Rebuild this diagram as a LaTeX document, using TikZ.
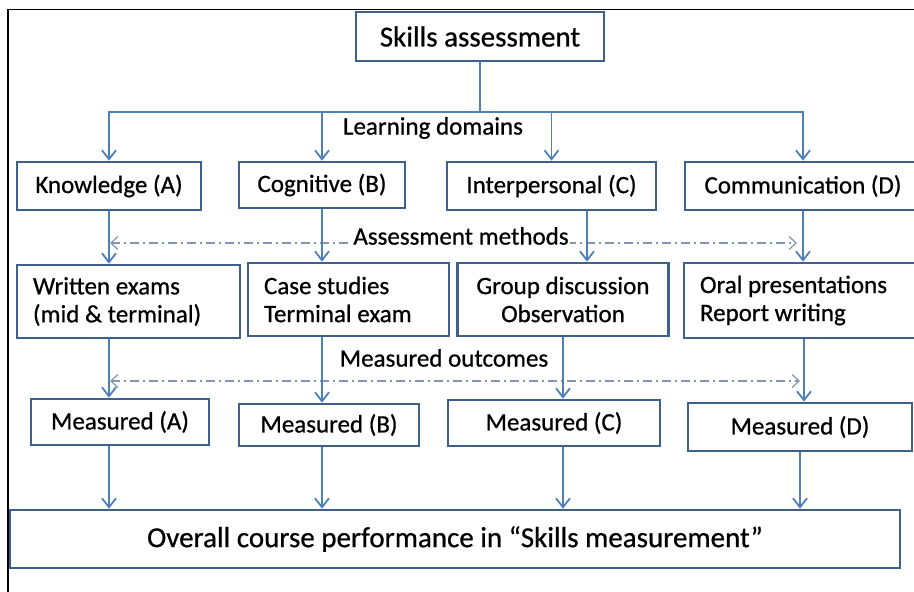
\documentclass[tikz,border=0pt]{standalone}
\usepackage{fontspec}
\setmainfont{Carlito}[FakeBold=0.7]
\usetikzlibrary{arrows.meta}

\begin{document}
\begin{tikzpicture}[x=1pt,y=1pt,yscale=-1,xscale=1,
  box/.style={draw={rgb,255:red,63;green,96;blue,140}, line width=2.6pt, inner sep=0pt,
    align=center, font=\fontsize{25}{28}\selectfont},
  leftbox/.style={box, align=flush left, inner xsep=16pt},
  arr/.style={draw={rgb,255:red,79;green,127;blue,187}, line width=1.8pt,
    -{Straight Barb[length=9pt,width=14pt]}},
  bar/.style={draw={rgb,255:red,79;green,127;blue,187}, line width=1.8pt},
  dashline/.style={draw={rgb,255:red,128;green,150;blue,180}, line width=1.2pt,
    dash pattern=on 9pt off 4pt on 2pt off 4pt, {Straight Barb[length=7pt,width=13pt]}-{Straight Barb[length=7pt,width=13pt]}},
  lbl/.style={font=\fontsize{25}{28}\selectfont, inner sep=1pt}
]
\useasboundingbox (0,0) rectangle (914,592);

%frame
\draw [line width=1.5pt] (8,592) -- (8,9.5) -- (914,9.5);

%top box
\node [box, minimum width=248pt, minimum height=49pt, font=\fontsize{29}{32}\selectfont] (skills) at (480,36.5) {Skills assessment};

%learning domains
\node [box, minimum width=184pt, minimum height=48pt] (know) at (109,186) {Knowledge (A)};
\node [box, minimum width=166pt, minimum height=46pt] (cog) at (322,185) {Cognitive (B)};
\node [box, minimum width=209pt, minimum height=48pt] (interp) at (551.5,186) {Interpersonal (C)};
\node [box, minimum width=236pt, minimum height=48pt] (comm) at (803,186) {Communication (D)};

%assessment methods
\node [leftbox, text width=191pt, minimum height=73pt] (written) at (128.5,301.5) {Written exams\\(mid \& terminal)};
\node [leftbox, text width=169pt, minimum height=73pt] (case) at (348.5,299.5) {Case studies\\Terminal exam};
\node [box, minimum width=211pt, minimum height=73pt] (group) at (563,299.5) {Group discussion\\Observation};
\node [leftbox, text width=208pt, minimum height=75pt] (oral) at (804,300.5) {Oral presentations\\Report writing};

%measured outcomes
\node [box, minimum width=178pt, minimum height=46pt] (measA) at (120,422) {Measured (A)};
\node [box, minimum width=180pt, minimum height=42pt] (measB) at (329,425) {Measured (B)};
\node [box, minimum width=212pt, minimum height=46pt] (measC) at (554,423) {Measured (C)};
\node [box, minimum width=224pt, minimum height=48pt] (measD) at (800,427) {Measured (D)};

%overall
\node [box, minimum width=890pt, minimum height=58pt, font=\fontsize{29}{32}\selectfont] (overall) at (455,539) {Overall course performance in “Skills measurement”};

%top branching
\coordinate (bus) at (480,112);
\draw [bar] (skills.south) -- (bus);
\draw [arr] (bus) -| (know.north);
\draw [arr] (bus) -| (cog.north);
\draw [arr] (bus) -| (interp.north);
\draw [arr] (bus) -| (comm.north);
\node [lbl] (domains) at (433,128) {Learning domains};

%dash-dot lines with labels
\coordinate (amL) at (110,243);
\coordinate (amR) at (797,243);
\draw [dashline] (amL) -- (amR);
\node [lbl, fill=white] (methods) at (461,236) {Assessment methods};
\coordinate (moL) at (110,381);
\coordinate (moR) at (800,381);
\draw [dashline] (moL) -- (moR);
\node [lbl] (outcomes) at (444,358) {Measured outcomes};

%row 1 to row 2
\coordinate (colC) at (587,0);
\draw [arr] (know.south) -- (know.south |- written.north);
\draw [arr] (cog.south) -- (cog.south |- case.north);
\draw [arr] (interp.south -| colC) -- (group.north -| colC);
\draw [arr] (comm.south) -- (comm.south |- oral.north);

%row 2 to row 3
\draw [arr] (written.south -| know.south) -- (measA.north -| know.south);
\draw [arr] (case.south -| cog.south) -- (measB.north -| cog.south);
\draw [arr] (group.south) -- (group.south |- measC.north);
\draw [arr] (oral.south) -- (oral.south |- measD.north);

%row 3 to overall
\draw [arr] (measA.south -| know.south) -- (overall.north -| know.south);
\draw [arr] (measB.south -| cog.south) -- (overall.north -| cog.south);
\draw [arr] (measC.south -| group.south) -- (overall.north -| group.south);
\draw [arr] (measD.south) -- (measD.south |- overall.north);

\end{tikzpicture}
\end{document}
